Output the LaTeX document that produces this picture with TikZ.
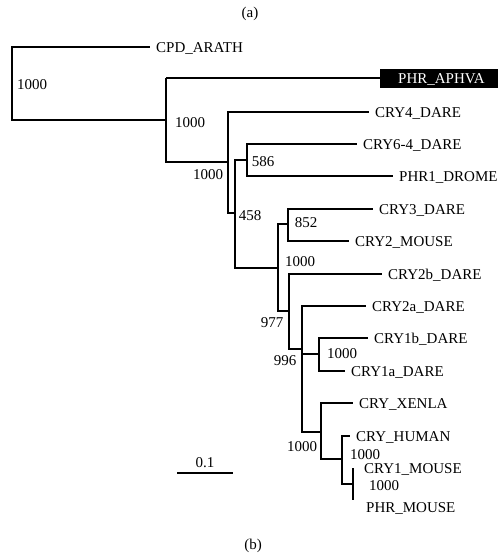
\documentclass[tikz,border=0pt]{standalone}
\usepackage{fontspec}
\setmainfont{Liberation Serif}

\begin{document}
\begin{tikzpicture}[x=1pt,y=-1pt,font=\fontsize{15}{18}\selectfont]
\tikzset{leaf/.style={anchor=west,inner xsep=6pt,inner ysep=0pt,text height=10pt,text depth=0pt},
    boot/.style={inner sep=0pt},
    br/.style={line width=1.1pt},
    thickbr/.style={line width=1.7pt}}
\useasboundingbox (0,0) rectangle (498,555);

    % captions
    \node (capa) at (250,14) {(a)};
    \node (capb) at (253,546) {(b)};

    % internal nodes of the tree
    \coordinate (root) at (12,85);
    \coordinate (n1) at (166,120);
    \coordinate (n2) at (228,162);
    \coordinate (n3) at (235,213);
    \coordinate (n4) at (247,160);
    \coordinate (n5) at (278,268);
    \coordinate (n6) at (288,224);
    \coordinate (n7) at (289,311);
    \coordinate (n8) at (302,349);
    \coordinate (n9) at (319,354);
    \coordinate (n10) at (321,432);
    \coordinate (n11) at (342,459);
    \coordinate (n12) at (353,484);
    \coordinate (cry1mtip) at (353,468);
    \coordinate (phrmtip) at (353,500);

    % leaves
    \node[leaf] (cpd) at (150,47) {CPD\_ARATH};
    \node[leaf,fill=black,text=white,inner xsep=18pt,inner ysep=4.5pt,text width=100pt] (aphva) at (380,78) {PHR\_APHVA};
    \node[leaf] (cry4) at (369,112) {CRY4\_DARE};
    \node[leaf] (cry64) at (357,144) {CRY6-4\_DARE};
    \node[leaf] (dm) at (393,176) {PHR1\_DROME};
    \node[leaf] (cry3) at (373,209) {CRY3\_DARE};
    \node[leaf] (cry2m) at (349,241) {CRY2\_MOUSE};
    \node[leaf] (cry2b) at (382,274) {CRY2b\_DARE};
    \node[leaf] (cry2a) at (366,306) {CRY2a\_DARE};
    \node[leaf] (cry1b) at (368,338) {CRY1b\_DARE};
    \node[leaf] (cry1a) at (345,371) {CRY1a\_DARE};
    \node[leaf] (xenla) at (353,403) {CRY\_XENLA};
    \node[leaf] (human) at (350,436) {CRY\_HUMAN};
    \node[leaf] (cry1m) at (358,468) {CRY1\_MOUSE};
    \node[leaf] (phrm) at (360,507) {PHR\_MOUSE};

    % branches
    \draw[br] (root) |- (cpd.west);
    \draw[br] (root) |- (n1);
    \draw[br] (n1) |- (n1 |- aphva.west);
    \draw[thickbr] (n1 |- aphva.west) -- (aphva.west);
    \draw[br] (n1) |- (n2);
    \draw[br] (n2) |- (cry4.west);
    \draw[br] (n2) |- (n3);
    \draw[thickbr] (n3) |- (n4);
    \draw[thickbr] (n4) |- (cry64.west);
    \draw[br] (n4) |- (dm.west);
    \draw[thickbr] (n3) |- (n5);
    \draw[br] (n5) |- (n6);
    \draw[br] (n6) |- (cry3.west);
    \draw[br] (n6) |- (cry2m.west);
    \draw[br] (n5) |- (n7);
    \draw[br] (n7) |- (cry2b.west);
    \draw[br] (n7) |- (n8);
    \draw[br] (n8) |- (cry2a.west);
    \draw[br] (n8) |- (n9);
    \draw[br] (n9) |- (cry1b.west);
    \draw[br] (n9) |- (cry1a.west);
    \draw[br] (n8) |- (n10);
    \draw[br] (n10) |- (xenla.west);
    \draw[br] (n10) |- (n11);
    \draw[br] (n11) |- (human.west);
    \draw[br] (n11) |- (n12);
    \draw[br] (cry1mtip) -- (phrmtip);

    % bootstrap values
    \node[boot] (b0) at (32,85) {1000};
    \node[boot] (b1) at (190,123) {1000};
    \node[boot] (b2) at (208,175) {1000};
    \node[boot] (b4) at (263,162) {586};
    \node[boot] (b3) at (250,216) {458};
    \node[boot] (b6) at (306,223) {852};
    \node[boot] (b5) at (300,262) {1000};
    \node[boot] (b7) at (272,323) {977};
    \node[boot] (b8) at (285,361) {996};
    \node[boot] (b9) at (342,354) {1000};
    \node[boot] (b10) at (302,447) {1000};
    \node[boot] (b11) at (365,455) {1000};
    \node[boot] (b12) at (384,486) {1000};

    % scale bar
    \coordinate (sbl) at (177,473);
    \coordinate (sbr) at (233,473);
    \draw[br] (sbl) -- node[above,inner sep=5pt] (sbtext) {0.1} (sbr);
\end{tikzpicture}
\end{document}
